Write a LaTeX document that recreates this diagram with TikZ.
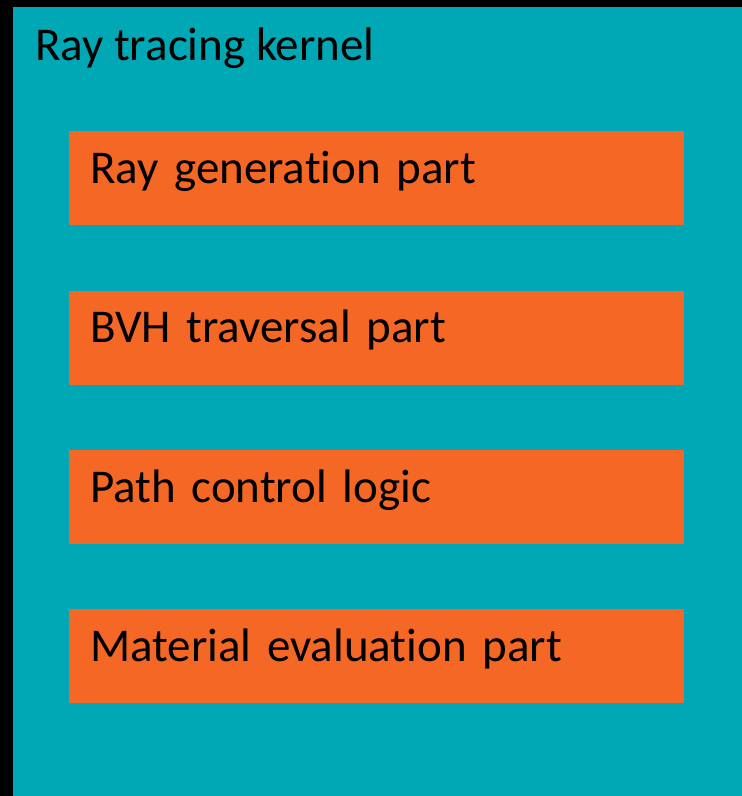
\documentclass[tikz,border=0pt]{standalone}
\usepackage{fontspec}
\setmainfont[Ligatures=NoCommon]{Carlito}
\usetikzlibrary{positioning}
\definecolor{kernelteal}{RGB}{0,168,181}
\definecolor{partorange}{RGB}{244,103,37}

\begin{document}
\begin{tikzpicture}[x=1pt,y=-1pt,
	kernelbox/.style={rectangle,fill=kernelteal,inner sep=0pt,minimum width=729pt,minimum height=789pt},
	partbox/.style={rectangle,fill=partorange,minimum width=615pt,minimum height=94pt,
		inner xsep=21pt,inner ysep=0pt,text width=573pt,align=left,
		text height=30pt,text depth=20pt,font=\fontsize{47}{54}\selectfont},
	node distance=65pt]
\fill [black] (0,0) rectangle (742,796);
\useasboundingbox (0,0) rectangle (742,796);
% outer kernel
\node [kernelbox,anchor=north west] (kernel) at (13,7) {};
\node [anchor=base west,inner sep=0pt,font=\fontsize{47}{54}\selectfont] (title) at (35,60) {Ray tracing kernel};
% parts
\node [partbox,anchor=north west] (raygen) at (69,131) {Ray generation part};
\node [partbox,below=of raygen] (bvh) {BVH traversal part};
\node [partbox,below=of bvh] (pathctl) {Path control logic};
\node [partbox,below=of pathctl] (material) {Material evaluation part};
\end{tikzpicture}
\end{document}
